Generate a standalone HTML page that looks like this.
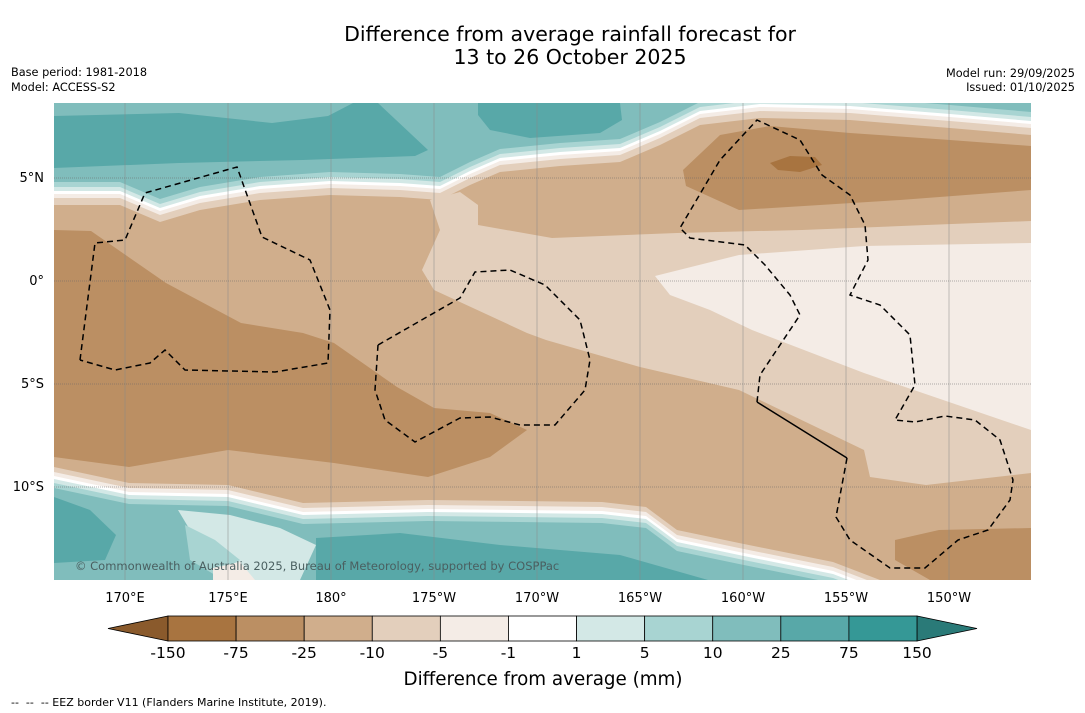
<!DOCTYPE html>
<html><head><meta charset="utf-8">
<style>
body{margin:0;background:#fff;width:1085px;height:713px;overflow:hidden;font-family:"DejaVu Sans",sans-serif}
svg{display:block}
</style></head>
<body>
<svg id="s" width="1085" height="713" viewBox="0 0 1085 713" xmlns="http://www.w3.org/2000/svg" font-family="DejaVu Sans, sans-serif">
<text x="570" y="41" font-size="20.5" text-anchor="middle">Difference from average rainfall forecast for</text>
<text x="570" y="64" font-size="20.5" text-anchor="middle">13 to 26 October 2025</text>
<text x="11" y="76" font-size="11.3">Base period: 1981-2018</text>
<text x="11" y="91" font-size="11.3">Model: ACCESS-S2</text>
<text x="1075" y="77" font-size="11.3" text-anchor="end">Model run: 29/09/2025</text>
<text x="1075" y="91" font-size="11.3" text-anchor="end">Issued: 01/10/2025</text>
<defs><clipPath id="mc"><rect x="54" y="103" width="977" height="477"/></clipPath></defs>
<g id="map" clip-path="url(#mc)"></g>
<g id="grid"></g>
<g id="eez" fill="none" stroke="#000" stroke-width="1.5" stroke-dasharray="6,4"></g>
<text x="75" y="570" font-size="11.5" fill="#4a5f60">© Commonwealth of Australia 2025, Bureau of Meteorology, supported by COSPPac</text>
<g id="axes" font-size="13"></g>
<g id="cbar"></g>
<text x="543" y="685" font-size="18.3" text-anchor="middle">Difference from average (mm)</text>
<text x="11" y="706" font-size="11" xml:space="preserve">--  --  -- EEZ border V11 (Flanders Marine Institute, 2019).</text>
</svg>
<script>
const levels=["-150","-75","-25","-10","-5","-1","1","5","10","25","75","150"];
const colors=["#a87440","#bb8f63","#d0ae8c","#e3cfbc","#f4ece6","#ffffff","#d3e8e6","#a8d4d2","#80bdbc","#58a8a8","#359896"];
const lonLabels=["170°E","175°E","180°","175°W","170°W","165°W","160°W","155°W","150°W"];
const lonVals=[170,175,180,185,190,195,200,205,210];
const latLabels=["5°N","0°","5°S","10°S"];
const latVals=[5,0,-5,-10];
const NS="http://www.w3.org/2000/svg";
function lx(l){return 125+(l-170)*20.6;}
function ly(l){return 281-l*20.6;}
function mk(tag,attrs,parent){const e=document.createElementNS(NS,tag);for(const k in attrs)e.setAttribute(k,attrs[k]);parent.appendChild(e);return e;}
const map=document.getElementById('map');
function poly(pts,fill,name){const e=mk('polygon',{points:pts.map(p=>p.join(',')).join(' '),fill:fill},map);

}
function sh(c,d){return c.map(p=>[p[0],p[1]+d]);}
poly([[54,103],[1031,103],[1031,580],[54,580]],colors[2],'tan-base');
const E=[[54,205],[120,205],[160,222],[200,210],[260,200],[330,195],[400,197],[440,200],[470,185],[500,172],[560,166],[620,162],[660,145],[700,125],[760,118],[850,120],[950,128],[1031,135]];
const topClose=[[1031,90],[54,90]];
[[0,colors[3]],[-7,colors[4]],[-11,colors[5]],[-14,colors[6]],[-18,colors[7]],[-23,colors[8]]].forEach((a,i)=>poly(sh(E,a[0]).concat(topClose),a[1],'top-band-'+i));
poly([[54,116],[179,113],[272,123],[328,116],[353,103],[378,103],[428,150],[415,156],[303,160],[179,163],[54,168]],colors[9],'top-teal-west');
poly([[478,103],[620,103],[622,120],[600,133],[530,138],[490,130],[478,115]],colors[9],'top-teal-central');
poly([[430,200],[460,192],[478,205],[478,225],[552,238],[677,233],[802,230],[926,225],[1031,221],[1031,473],[926,485],[870,477],[864,450],[739,390],[640,367],[546,340],[527,333],[434,290],[422,270],[440,230]],colors[3],'central-light');
poly([[655,276],[739,255],[864,246],[1031,243],[1031,430],[864,373],[752,330],[710,310],[670,295]],colors[4],'east-light');
poly([[686,186],[683,170],[720,135],[770,126],[850,133],[950,140],[1031,146],[1031,190],[900,200],[739,210]],colors[1],'ne-brown');
poly([[770,163],[790,156],[815,157],[822,165],[800,172],[778,170]],colors[0],'ne-dark-brown');
poly([[54,230],[91,231],[166,283],[241,323],[303,333],[334,343],[397,387],[434,408],[490,413],[527,430],[490,457],[428,477],[334,463],[228,450],[129,467],[54,457]],colors[1],'west-brown');
poly([[895,540],[939,530],[1031,528],[1031,580],[930,580],[895,560]],colors[1],'se-brown');
const L=[[54,467],[129,483],[228,485],[303,503],[428,500],[602,502],[646,507],[677,530],[739,543],[833,562],[880,580],[920,600]];
const botClose=[[920,620],[54,620]];
[[0,colors[3]],[5,colors[4]],[9,colors[5]],[12,colors[6]],[16,colors[7]],[21,colors[8]]].forEach((a,i)=>poly(sh(L,a[0]).concat(botClose),a[1],'bottom-band-'+i));
poly([[178,510],[230,515],[280,528],[316,545],[300,580],[220,580],[205,560],[190,530]],colors[6],'bottom-light');
poly([[185,525],[215,540],[240,560],[215,575],[190,560]],colors[7],'bottom-light2');
poly([[213,568],[240,562],[255,580],[213,580]],colors[4],'bottom-pale');
poly([[54,497],[90,510],[116,535],[105,560],[54,563]],colors[9],'sw-teal');
poly([[316,538],[400,533],[500,545],[620,555],[708,580],[316,580]],colors[9],'south-teal');
const grid=document.getElementById('grid');
lonVals.forEach(v=>{const l=mk('line',{x1:lx(v),x2:lx(v),y1:103,y2:580,stroke:'#888','stroke-width':0.5},grid);

});
latVals.forEach(v=>{const l=mk('line',{x1:54,x2:1031,y1:ly(v),y2:ly(v),stroke:'#666','stroke-width':0.6,'stroke-dasharray':'1,1'},grid);

});
const axes=document.getElementById('axes');
lonLabels.forEach((t,i)=>{const e=mk('text',{x:lx(lonVals[i]),y:602,'text-anchor':'middle'},axes);e.textContent=t;

});
latLabels.forEach((t,i)=>{const e=mk('text',{x:44,y:ly(latVals[i])+4,'text-anchor':'end'},axes);e.textContent=t;

});
const eez=document.getElementById('eez');
[[[80,360],[95,243],[125,240],[145,193],[237,167],[262,237],[310,260],[330,310],[328,363],[275,372],[185,370],[165,350],[150,363],[115,370],[80,360]],
[[378,345],[460,298],[475,272],[510,270],[545,285],[580,320],[590,360],[585,390],[555,425],[520,425],[490,417],[460,418],[415,442],[385,420],[375,390],[378,345]],
[[847,458],[836,517],[850,540],[890,568],[925,568],[958,540],[988,530],[1010,500],[1013,480],[1000,440],[975,420],[945,416],[915,422],[895,420],[915,385],[910,335],[880,305],[850,295],[868,260],[865,225],[850,195],[822,175],[800,140],[757,120],[720,160],[680,228],[690,238],[745,245],[765,265],[790,295],[800,315],[760,375],[757,402]]
].forEach(p=>{const e=mk('polyline',{points:p.map(q=>q.join(',')).join(' ')},eez);

});
const sl=mk('polyline',{points:'757,402 847,458',stroke:'#000','stroke-dasharray':'none'},eez);


const cb=document.getElementById('cbar');
const x0=168,x1=917,w=(x1-x0)/colors.length,cy=616,ch=25;
const lt=mk('polygon',{points:`108,${cy+ch/2} ${x0},${cy} ${x0},${cy+ch}`,fill:'#8a5a2c',stroke:'#000','stroke-width':0.8},cb);


const rt=mk('polygon',{points:`977,${cy+ch/2} ${x1},${cy} ${x1},${cy+ch}`,fill:'#2a7a78',stroke:'#000','stroke-width':0.8},cb);


colors.forEach((c,i)=>{const r=mk('rect',{x:x0+i*w,y:cy,width:w,height:ch,fill:c,stroke:'#000','stroke-width':0.8},cb);

});
levels.forEach((t,i)=>{const e=mk('text',{x:x0+i*w,y:658,'font-size':15.5,'text-anchor':'middle'},cb);e.textContent=t;

});
</script>
</body></html>
